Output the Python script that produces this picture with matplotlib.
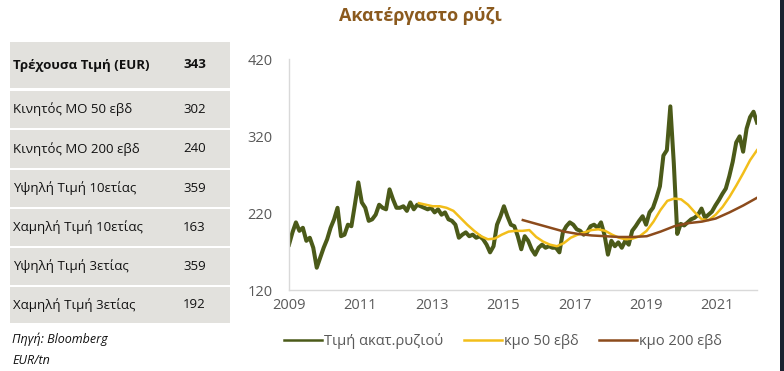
import numpy as np
import matplotlib
matplotlib.use("Agg")
import matplotlib.pyplot as plt
from matplotlib.patches import Rectangle

plt.rcParams['font.family'] = ['Open Sans', 'DejaVu Sans']

# --- dados ---
titulo = 'Ακατέργαστο ρύζι'

tabela_rotulos = ['Τρέχουσα Τιμή (EUR)', 'Κινητός ΜΟ 50 εβδ', 'Κινητός ΜΟ 200 εβδ',
                  'Υψηλή Τιμή 10ετίας', 'Χαμηλή Τιμή 10ετίας', 'Υψηλή Τιμή 3ετίας',
                  'Χαμηλή Τιμή 3ετίας']
tabela_valores = ['343', '302', '240', '359', '163', '359', '192']

series_nomes = ['Τιμή ακατ.ρυζιού', 'κμο 50 εβδ', 'κμο 200 εβδ']

ano_inicio = 2009.0
ano_fim = 2022.11
anos_ticks = [2009, 2011, 2013, 2015, 2017, 2019, 2021]
y_ticks = [120, 220, 320, 420]

preco = [179, 195, 208, 197, 201, 184, 188, 175, 149, 162,
         175, 186, 201, 212, 227, 190, 192, 205, 203, 231,
         260, 234, 227, 210, 212, 218, 231, 227, 225, 251,
         238, 227, 227, 229, 223, 234, 225, 231, 229, 227,
         225, 227, 221, 225, 218, 221, 212, 210, 205, 188,
         192, 195, 190, 192, 188, 190, 186, 179, 169, 177,
         205, 216, 229, 216, 205, 203, 190, 173, 190, 184,
         173, 166, 175, 179, 175, 177, 175, 175, 169, 195,
         203, 208, 205, 199, 197, 192, 195, 203, 205, 201,
         208, 192, 166, 184, 177, 182, 175, 184, 179, 197,
         203, 210, 216, 205, 221, 227, 240, 255, 295, 302,
         359, 285, 193, 206, 204, 208, 212, 214, 218, 226,
         214, 218, 222, 230, 237, 245, 252, 268, 287, 312,
         320, 300, 330, 345, 352, 338]

ma50_inicio = 2012.64
ma50 = [233, 231, 229, 229, 227, 223, 214, 205, 197, 190,
        186, 187, 192, 196, 197, 197, 198, 189, 183, 179,
        177, 181, 188, 192, 195, 198, 199, 197, 192, 188,
        186, 187, 190, 197, 209, 224, 236, 239, 238, 231,
        221, 212, 211, 218, 228, 241, 256, 272, 289, 302]

ma200_inicio = 2015.55
ma200 = [211, 206, 201, 196, 193, 191, 190, 189, 189, 190,
         196, 203, 207, 209, 213, 221, 230, 240]

# --- figura ---
W, H = 784, 371
fig = plt.figure(figsize=(W / 100, H / 100), dpi=100)

def fx(px):
    return px / W

def fy(py):
    return 1 - py / H

# titulo
fig.text(fx(420), fy(16), titulo, ha='center', va='center', fontsize=13,
         fontweight='bold', color='#8B5A1E')

# tabela a esquerda
linhas = [(42, 88), (91, 128), (130, 168), (170, 207), (209, 246), (248, 285), (287, 323)]
for i, (t, b) in enumerate(linhas):
    fig.add_artist(Rectangle((fx(10), fy(b)), fx(230) - fx(10), fy(t) - fy(b),
                             transform=fig.transFigure, facecolor='#E2E1DD',
                             edgecolor='none'))
    peso = 'bold' if i == 0 else 'normal'
    ym = fy((t + b) / 2)
    fig.text(fx(13), ym, tabela_rotulos[i], ha='left', va='center', fontsize=9.5,
             fontweight=peso, color='#111111')
    fig.text(fx(183), ym, tabela_valores[i], ha='left', va='center', fontsize=9.5,
             fontweight=peso, color='#111111')

fig.text(fx(12), fy(339), 'Πηγή: Bloomberg', ha='left', va='center', fontsize=9,
         style='italic', color='#111111')
fig.text(fx(12), fy(361), 'EUR/tn', ha='left', va='center', fontsize=9,
         style='italic', color='#111111')

# faixa escura na borda direita
fig.add_artist(Rectangle((fx(780), 0), fx(4), 1, transform=fig.transFigure,
                         facecolor='#1B2230', edgecolor='none'))

# grafico
ax = fig.add_axes([fx(289), fy(290), fx(757) - fx(289), fy(59.5) - fy(290)])

x_preco = np.linspace(ano_inicio, ano_fim, len(preco))
x_ma50 = np.linspace(ma50_inicio, ano_fim, len(ma50))
x_ma200 = np.linspace(ma200_inicio, ano_fim, len(ma200))

ax.plot(x_preco, preco, color='#4B5A19', lw=2.9, label=series_nomes[0],
        solid_joinstyle='round')
ax.plot(x_ma50, ma50, color='#F2BE1A', lw=1.8, label=series_nomes[1])
ax.plot(x_ma200, ma200, color='#8C4B1C', lw=1.8, label=series_nomes[2])

ax.set_xlim(ano_inicio, ano_fim)
ax.set_ylim(120, 420)
ax.set_xticks(anos_ticks)
ax.set_yticks(y_ticks)
ax.tick_params(length=0, labelsize=10.5, labelcolor='#595959', pad=6)
ax.tick_params(axis='y', pad=12)
for s in ['top', 'right']:
    ax.spines[s].set_visible(False)
for s in ['left', 'bottom']:
    ax.spines[s].set_color('#D9D9D9')
    ax.spines[s].set_linewidth(1)

leg = fig.legend(loc='center', bbox_to_anchor=(fx(503), fy(341)), ncol=3, frameon=False,
                 fontsize=10.5, labelcolor='#595959', handlelength=2.6,
                 handletextpad=0.15, columnspacing=1.4)
for linha in leg.get_lines():
    linha.set_linewidth(1.8)

fig.savefig('out.png', dpi=100)
